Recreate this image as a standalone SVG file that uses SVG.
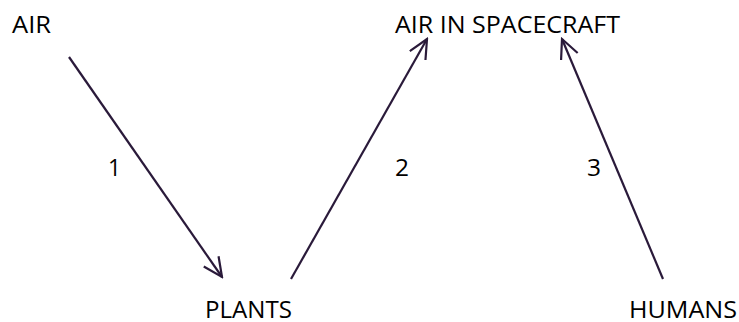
<svg xmlns="http://www.w3.org/2000/svg" width="739" height="322" viewBox="0 0 739 322">
<style>
text{font-family:"Open Sans","Liberation Sans",sans-serif;font-size:24px;fill:#000}
.c{stroke:#2a1a3a;stroke-width:2.2;fill:none}
</style>
<defs>
<marker id="ah" viewBox="-20 -10 22 20" refX="0" refY="0" markerWidth="22" markerHeight="20" markerUnits="userSpaceOnUse" orient="auto">
<polyline points="-19,-9 0,0 -19,9" fill="none" stroke="#2a1a3a" stroke-width="2.2"/>
</marker>
</defs>
<rect width="739" height="322" fill="#fff"/>
<g id="air"><text x="12" y="33" textLength="39" lengthAdjust="spacingAndGlyphs">AIR</text></g>
<g id="air-in-spacecraft"><text x="395" y="33" textLength="225" lengthAdjust="spacingAndGlyphs">AIR IN SPACECRAFT</text></g>
<g id="plants"><text x="205" y="317.5" textLength="87" lengthAdjust="spacingAndGlyphs">PLANTS</text></g>
<g id="humans"><text x="629" y="317.5" textLength="108" lengthAdjust="spacingAndGlyphs">HUMANS</text></g>
<g id="connectors">
<line class="c" x1="69" y1="57" x2="222" y2="277" marker-end="url(#ah)"/>
<line class="c" x1="291" y1="279" x2="427" y2="39" marker-end="url(#ah)"/>
<line class="c" x1="663" y1="279" x2="562" y2="39" marker-end="url(#ah)"/>
<text x="108" y="176" textLength="13" lengthAdjust="spacingAndGlyphs">1</text>
<text x="395" y="176" textLength="14" lengthAdjust="spacingAndGlyphs">2</text>
<text x="587" y="176" textLength="14" lengthAdjust="spacingAndGlyphs">3</text>
</g>
</svg>
